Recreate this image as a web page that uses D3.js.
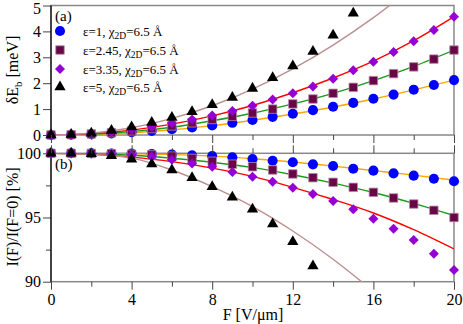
<!DOCTYPE html>
<html>
<head>
<meta charset="utf-8">
<script src="https://cdn.jsdelivr.net/npm/d3@7"></script>
<style>
  body { margin: 0; background: #fff; }
  svg { display: block; font-family: "Liberation Serif", "DejaVu Serif", serif; }
</style>
</head>
<body>
<svg id="chart" width="463" height="324"></svg>
<script>
// field values (V/um) where the points sit
const fields = [0, 1, 2, 3, 4, 5, 6, 7, 8, 9, 10, 11, 12, 13, 14, 15, 16, 17, 18, 19, 20];

// (a) binding energy shift, meV
const dEbEps1   = [0, 0.01, 0.03, 0.06, 0.11, 0.16, 0.22, 0.29, 0.37, 0.47, 0.58, 0.70, 0.82, 0.96, 1.09, 1.24, 1.40, 1.56, 1.75, 1.93, 2.12];
const dEbEps245 = [0, 0.01, 0.04, 0.09, 0.16, 0.25, 0.35, 0.47, 0.60, 0.72, 0.85, 1.00, 1.20, 1.39, 1.61, 1.84, 2.10, 2.37, 2.63, 2.93, 3.28];
const dEbEps335 = [0, 0.01, 0.05, 0.12, 0.21, 0.32, 0.46, 0.60, 0.75, 0.93, 1.13, 1.37, 1.61, 1.87, 2.17, 2.50, 2.83, 3.20, 3.62, 4.05, 4.57];
const dEbEps5   = [0, 0.02, 0.07, 0.17, 0.31, 0.48, 0.68, 0.90, 1.17, 1.45, 1.80, 2.21, 2.66, 3.22, 3.85, 4.70];

// (b) relative intensity, %
const relEps1   = [100, 100, 100, 99.99, 99.98, 99.95, 99.90, 99.85, 99.79, 99.69, 99.56, 99.42, 99.30, 99.14, 99.01, 98.80, 98.65, 98.44, 98.26, 98.02, 97.82];
const relEps245 = [100, 100, 99.99, 99.97, 99.93, 99.88, 99.78, 99.60, 99.38, 99.15, 98.95, 98.70, 98.39, 98.10, 97.74, 97.35, 96.96, 96.52, 96.05, 95.56, 95.00];
const relEps335 = [100, 100, 99.99, 99.95, 99.88, 99.75, 99.50, 99.20, 98.96, 98.55, 98.18, 97.79, 97.32, 96.83, 96.29, 95.64, 94.91, 94.13, 93.25, 92.18, 90.91];
const relEps5   = [100, 100, 99.97, 99.80, 99.53, 99.17, 98.70, 98.10, 97.40, 96.57, 95.64, 94.49, 93.12, 91.22];

// fitted curves, sampled every 2 V/um
const fitFields = [0, 2, 4, 6, 8, 10, 12, 14, 16, 18, 20];
const fitAEps1   = [0, 0.02, 0.08, 0.20, 0.36, 0.57, 0.81, 1.08, 1.39, 1.74, 2.12];
const fitAEps245 = [0, 0.03, 0.13, 0.30, 0.55, 0.84, 1.20, 1.61, 2.10, 2.65, 3.28];
const fitAEps335 = [0, 0.05, 0.19, 0.42, 0.74, 1.14, 1.63, 2.20, 2.85, 3.64, 4.57];
const fitAEps5   = [0, 0.07, 0.28, 0.64, 1.13, 1.77, 2.55, 3.47, 4.53, 5.73];
const fitBEps1   = [100, 100, 99.96, 99.90, 99.78, 99.58, 99.32, 99.00, 98.65, 98.30, 97.90];
const fitBEps245 = [100, 99.97, 99.85, 99.62, 99.30, 98.90, 98.33, 97.68, 96.95, 96.10, 95.15];
const fitBEps335 = [100, 99.93, 99.70, 99.35, 98.85, 98.20, 97.35, 96.40, 95.35, 94.05, 92.55];
const fitBEps5   = [100, 99.92, 99.62, 98.70, 97.40, 95.85, 93.95, 91.75, 89.25];

const legendLabels = [["ε=1, χ", "=6.5 Å"], ["ε=2.45, χ", "=6.5 Å"], ["ε=3.35, χ", "=6.5 Å"], ["ε=5, χ", "=6.5 Å"]];

const series = [
  { pts: dEbEps1,   rel: relEps1,   fa: fitAEps1,   fb: fitBEps1,   sym: d3.symbolCircle,   size: 80, rot: 0,  fill: '#0000ff', stroke: 'none', line: '#ffa500' },
  { pts: dEbEps245, rel: relEps245, fa: fitAEps245, fb: fitBEps245, sym: d3.symbolSquare,   size: 72, rot: 0,  fill: '#670748', stroke: '#b88aa4', line: '#1a9a1a' },
  { pts: dEbEps335, rel: relEps335, fa: fitAEps335, fb: fitBEps335, sym: d3.symbolSquare,   size: 50, rot: 45, fill: '#9400d3', stroke: 'none', line: '#ff0000' },
  { pts: dEbEps5,   rel: relEps5,   fa: fitAEps5,   fb: fitBEps5,   sym: d3.symbolTriangle, size: 55, rot: 0,  fill: '#000000', stroke: 'none', line: '#bc8f8f' }
];

const svg = d3.select('#chart');
const left = 51, right = 454;
const x = d3.scaleLinear().domain([0, 20]).range([left, right]);
const yA = d3.scaleLinear().domain([0, 5]).range([135, 5.5]);
const yB = d3.scaleLinear().domain([90, 100]).range([281.7, 153.3]);

const frame = '#888';

function styleTicks(g) {
  g.selectAll('.domain').remove();
  g.selectAll('.tick line').attr('stroke', '#444');
  g.selectAll('.tick text').attr('font-size', 16).attr('fill', '#000')
    .attr('font-family', '"Liberation Serif", serif');
}

function panel(id, y, yTicks, yMinor, valueKey, fitKey) {
  const top = y.range()[1], bottom = y.range()[0];
  const g = svg.append('g');

  g.append('clipPath').attr('id', id)
    .append('rect').attr('x', left).attr('y', top).attr('width', right - left).attr('height', bottom - top);

  // frame
  g.append('rect').attr('x', left).attr('y', top).attr('width', right - left).attr('height', bottom - top)
    .attr('fill', 'none').attr('stroke', frame).attr('stroke-width', 1.5);

  // y ticks
  g.append('g').attr('transform', `translate(${left},0)`)
    .call(d3.axisLeft(y).tickValues(yTicks).tickSize(8).tickPadding(2).tickFormat(d3.format('d')));
  if (yMinor.length) {
    g.append('g').attr('transform', `translate(${left},0)`)
      .call(d3.axisLeft(y).tickValues(yMinor).tickSize(5).tickFormat(''));
  }
  styleTicks(g);

  // black left spine
  g.append('line').attr('x1', left).attr('x2', left).attr('y1', top).attr('y2', bottom)
    .attr('stroke', '#000').attr('stroke-width', 1.2);

  // fitted curves
  const curves = g.append('g').attr('clip-path', `url(#${id})`);
  series.forEach(s => {
    const line = d3.line().x((d, i) => x(fitFields[i])).y(d => y(d)).curve(d3.curveMonotoneX);
    curves.append('path').datum(s[fitKey]).attr('d', line)
      .attr('fill', 'none').attr('stroke', s.line).attr('stroke-width', 1.4);
  });

  // markers
  series.forEach(s => {
    g.append('g').selectAll('path').data(s[valueKey]).join('path')
      .attr('transform', (d, i) => `translate(${x(fields[i])},${y(d)}) rotate(${s.rot})`)
      .attr('d', d3.symbol().type(s.sym).size(s.size))
      .attr('fill', s.fill).attr('stroke', s.stroke).attr('stroke-width', 0.8);
  });
  return g;
}

const gA = panel('clipA', yA, [0, 1, 2, 3, 4, 5], [], 'pts', 'fa');
const gB = panel('clipB', yB, [90, 95, 100], [92.5, 97.5], 'rel', 'fb');

// x ticks: outward into the gap for both panels, labels only at the bottom
function xTicks(yPos, maker, labels) {
  const g = svg.append('g').attr('transform', `translate(0,${yPos})`);
  g.call(maker(x).tickValues([0, 4, 8, 12, 16, 20]).tickSize(8).tickPadding(4)
    .tickFormat(labels ? d3.format('d') : ''));
  g.append('g').call(maker(x).tickValues([2, 6, 10, 14, 18]).tickSize(5).tickFormat(''));
  styleTicks(g);
}
xTicks(yA(0), d3.axisBottom, false);
xTicks(yB(100), d3.axisTop, false);
xTicks(yB(90), d3.axisBottom, true);

// keep the "5" label inside the picture
gA.selectAll('.tick text').filter(d => d === 5).attr('dy', '0.52em');

// panel letters
svg.append('text').attr('x', 55).attr('y', 21).attr('font-size', 15).text('(a)');
svg.append('text').attr('x', 55).attr('y', 169).attr('font-size', 15).text('(b)');

// legend
const legendY = [31, 50, 69, 87];
series.forEach((s, i) => {
  svg.append('path').attr('transform', `translate(60,${legendY[i]}) rotate(${s.rot})`)
    .attr('d', d3.symbol().type(s.sym).size(s.size))
    .attr('fill', s.fill).attr('stroke', s.stroke).attr('stroke-width', 0.8);
  const t = svg.append('text').attr('x', 83).attr('y', legendY[i] + 4.5).attr('font-size', 13);
  t.append('tspan').text(legendLabels[i][0]);
  t.append('tspan').attr('font-size', 9.5).attr('dy', 3).text('2D');
  t.append('tspan').attr('dy', -3).text(legendLabels[i][1]);
});

// axis titles
const ta = svg.append('text').attr('transform', 'translate(18,70) rotate(-90)')
  .attr('text-anchor', 'middle').attr('font-size', 16);
ta.append('tspan').text('δE');
ta.append('tspan').attr('font-size', 11).attr('dy', 4).text('b');
ta.append('tspan').attr('dy', -4).text(' [meV]');

svg.append('text').attr('transform', 'translate(18,217) rotate(-90)')
  .attr('text-anchor', 'middle').attr('font-size', 16).text('I(F)/I(F=0) [%]');

svg.append('text').attr('x', 253).attr('y', 320).attr('text-anchor', 'middle')
  .attr('font-size', 16).text('F [V/μm]');
</script>
</body>
</html>
